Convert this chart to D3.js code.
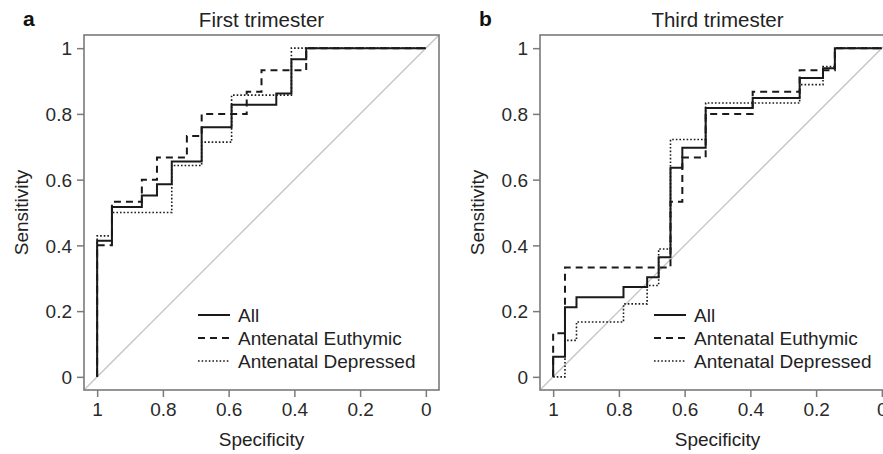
<!DOCTYPE html>
<html>
<head>
<meta charset="utf-8">
<script src="https://cdn.jsdelivr.net/npm/d3@7"></script>
<style>
  body { margin: 0; background: #fff; }
  svg { display: block; font-family: "Liberation Sans", Arial, sans-serif; }
</style>
</head>
<body>
<svg id="chart" width="883" height="454"></svg>
<script>
// ROC steps: at each specificity the curve climbs to the matching sensitivity
const ticks = [0, 0.2, 0.4, 0.6, 0.8, 1]
const seriesNames = ["All", "Antenatal Euthymic", "Antenatal Depressed"]

// first trimester
const specA_all = [1, 0.955, 0.864, 0.818, 0.773, 0.682, 0.591, 0.455, 0.409, 0.364]
const sensA_all = [0.414, 0.517, 0.552, 0.586, 0.655, 0.759, 0.828, 0.862, 0.966, 1]
const specA_euth = [1, 0.955, 0.864, 0.818, 0.727, 0.682, 0.545, 0.5, 0.364]
const sensA_euth = [0.4, 0.533, 0.6, 0.667, 0.733, 0.8, 0.867, 0.933, 1]
const specA_dep = [1, 0.955, 0.773, 0.682, 0.591, 0.409]
const sensA_dep = [0.429, 0.5, 0.643, 0.714, 0.857, 1]

// third trimester
const specB_all = [1, 0.964, 0.929, 0.786, 0.714, 0.679, 0.643, 0.607, 0.536, 0.393, 0.25, 0.179, 0.143]
const sensB_all = [0.061, 0.212, 0.242, 0.273, 0.303, 0.364, 0.636, 0.697, 0.818, 0.848, 0.909, 0.939, 1]
const specB_euth = [1, 0.964, 0.643, 0.607, 0.536, 0.393, 0.25, 0.143]
const sensB_euth = [0.133, 0.333, 0.533, 0.667, 0.8, 0.867, 0.933, 1]
const specB_dep = [0.964, 0.929, 0.786, 0.714, 0.679, 0.643, 0.536, 0.25, 0.179, 0.143]
const sensB_dep = [0.111, 0.167, 0.222, 0.278, 0.389, 0.722, 0.833, 0.889, 0.944, 1]

const styles = [
  { width: 2, dash: null },
  { width: 2, dash: "7,5" },
  { width: 1.6, dash: "1.6,2" }
]

const svg = d3.select("#chart")
const x = d3.scaleLinear().domain([1.04, -0.04]).range([84, 439])
const y = d3.scaleLinear().domain([-0.04, 1.04]).range([390, 35])

const line = d3.line()
  .x(d => x(d[0]))
  .y(d => y(d[1]))
  .curve(d3.curveStepAfter)

function toPoints(spec, sens) {
  const pts = [[1, 0]]
  spec.forEach((s, i) => pts.push([s, sens[i]]))
  pts.push([0, 1])
  return pts
}

function drawPanel(offset, letter, title, curves, id) {
  const g = svg.append("g").attr("transform", `translate(${offset},0)`)

  g.append("clipPath").attr("id", id)
    .append("rect")
    .attr("x", x(1.04)).attr("y", y(1.04))
    .attr("width", x(-0.04) - x(1.04)).attr("height", y(-0.04) - y(1.04))

  // chance line
  g.append("line")
    .attr("clip-path", `url(#${id})`)
    .attr("x1", x(1.04)).attr("y1", y(-0.04))
    .attr("x2", x(-0.04)).attr("y2", y(1.04))
    .attr("stroke", "#c4c4c4")
    .attr("stroke-width", 1.3)

  curves.forEach((c, i) => {
    g.append("path")
      .datum(toPoints(c[0], c[1]))
      .attr("d", line)
      .attr("fill", "none")
      .attr("stroke", "#1a1a1a")
      .attr("stroke-width", styles[i].width)
      .attr("stroke-dasharray", styles[i].dash)
  })

  // box
  g.append("rect")
    .attr("x", x(1.04)).attr("y", y(1.04))
    .attr("width", x(-0.04) - x(1.04)).attr("height", y(-0.04) - y(1.04))
    .attr("fill", "none")
    .attr("stroke", "#7a7a7a")
    .attr("stroke-width", 1.6)

  const xAxis = g.append("g")
    .attr("transform", `translate(0,${y(-0.04)})`)
    .call(d3.axisBottom(x).tickValues(ticks.slice().reverse()).tickFormat(d3.format("")).tickSize(7).tickPadding(6))
  const yAxis = g.append("g")
    .attr("transform", `translate(${x(1.04)},0)`)
    .call(d3.axisLeft(y).tickValues(ticks).tickFormat(d3.format("")).tickSize(7).tickPadding(5))

  ;[xAxis, yAxis].forEach(a => {
    a.select(".domain").remove()
    a.selectAll(".tick line").attr("stroke", "#7a7a7a").attr("stroke-width", 1.5)
    a.selectAll(".tick text").attr("fill", "#2a2a2a").style("font-size", "19px")
  })
  yAxis.selectAll(".tick text").attr("dy", "0.35em")

  g.append("text")
    .attr("x", (x(1.04) + x(-0.04)) / 2).attr("y", 446)
    .attr("text-anchor", "middle")
    .attr("fill", "#222").style("font-size", "19px")
    .text("Specificity")

  g.append("text")
    .attr("transform", `translate(28,${(y(-0.04) + y(1.04)) / 2}) rotate(-90)`)
    .attr("text-anchor", "middle")
    .attr("fill", "#222").style("font-size", "19px")
    .text("Sensitivity")

  g.append("text")
    .attr("x", (x(1.04) + x(-0.04)) / 2).attr("y", 27)
    .attr("text-anchor", "middle")
    .attr("fill", "#222").style("font-size", "20.5px")
    .text(title)

  g.append("text")
    .attr("x", 23).attr("y", 26)
    .attr("fill", "#111").style("font-size", "21px").style("font-weight", "bold")
    .text(letter)

  // legend
  const leg = g.append("g").attr("transform", `translate(${x(1.04) + 114},315)`)
  seriesNames.forEach((name, i) => {
    const row = leg.append("g").attr("transform", `translate(0,${i * 23})`)
    row.append("line")
      .attr("x1", 0).attr("x2", 32)
      .attr("stroke", "#1a1a1a")
      .attr("stroke-width", styles[i].width)
      .attr("stroke-dasharray", styles[i].dash)
    row.append("text")
      .attr("x", 40).attr("dy", "0.35em")
      .attr("fill", "#222").style("font-size", "19px")
      .text(name)
  })
}

drawPanel(0, "a", "First trimester", [
  [specA_all, sensA_all],
  [specA_euth, sensA_euth],
  [specA_dep, sensA_dep]
], "clipA")

drawPanel(456, "b", "Third trimester", [
  [specB_all, sensB_all],
  [specB_euth, sensB_euth],
  [specB_dep, sensB_dep]
], "clipB")
</script>
</body>
</html>
